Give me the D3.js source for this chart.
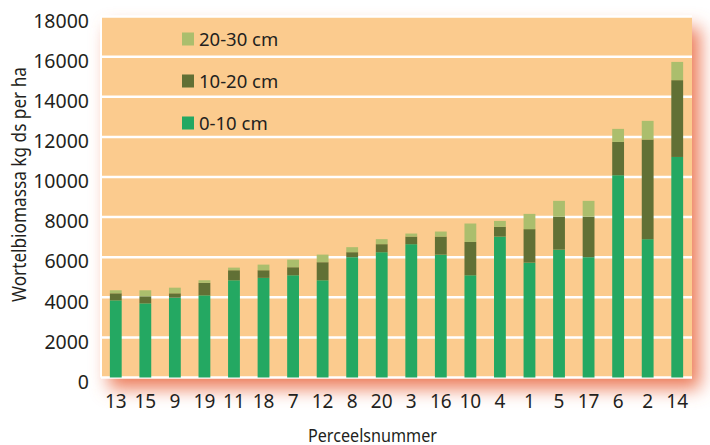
<!DOCTYPE html>
<html><head><meta charset="utf-8">
<script src="https://cdn.jsdelivr.net/npm/d3@7"></script>
<style>
html,body{margin:0;padding:0;background:#fff;}
svg{display:block;}
text{font-family:"Noto Sans",sans-serif;fill:#231F20;}
</style></head>
<body>
<svg id="chart" width="710" height="445"></svg>
<script>
const categories = ["13","15","9","19","11","18","7","12","8","20","3","16","10","4","1","5","17","6","2","14"];
const layer0to10  = [3850,3700,3980,4100,4850,4970,5100,4850,6000,6250,6650,6130,5100,7030,5730,6380,6000,10090,6900,11000];
const layer10to20 = [350,350,220,620,500,380,400,900,250,400,380,900,1660,490,1670,1640,2020,1660,4970,3830];
const layer20to30 = [150,300,280,130,130,280,380,380,250,250,150,250,920,290,760,790,790,650,930,910];
const seriesNames = ["0-10 cm","10-20 cm","20-30 cm"];
const colors = ["#24A862","#617035","#ABBE6D"];
const yTicks = [0,2000,4000,6000,8000,10000,12000,14000,16000,18000];
const yTitle = "Wortelbiomassa kg ds per ha";
const xTitle = "Perceelsnummer";

const svg = d3.select("#chart");
const m = {left:101, top:16.6, right:18, bottom:67.5};
const W = 710 - m.left - m.right, H = 445 - m.top - m.bottom;

const defs = svg.append("defs");
const f = defs.append("filter").attr("id","shadow").attr("x","-20%").attr("y","-20%").attr("width","140%").attr("height","140%");
f.append("feGaussianBlur").attr("stdDeviation",9);

const g = svg.append("g").attr("transform",`translate(${m.left},${m.top})`);

// shadow
g.append("rect").attr("x",8).attr("y",11).attr("width",W).attr("height",H)
 .attr("fill","#EC7A58").attr("filter","url(#shadow)");
g.append("rect").attr("x",0).attr("y",0).attr("width",W).attr("height",H).attr("fill","#FBCB8E");

const x = d3.scaleBand().domain(categories).range([0,W]).paddingInner(0.6).paddingOuter(0.3);
const y = d3.scaleLinear().domain([0,18000]).range([H,0]);

// gridlines
g.selectAll("line.grid").data(yTicks).join("line").attr("class","grid")
 .attr("x1",0).attr("x2",W).attr("y1",d=>y(d)).attr("y2",d=>y(d))
 .attr("stroke","#fff").attr("stroke-width",2.5);
g.append("line").attr("x1",0).attr("x2",0).attr("y1",0).attr("y2",H).attr("stroke","#fff").attr("stroke-width",2);

const data = categories.map((c,i)=>({cat:c, s0:layer0to10[i], s1:layer10to20[i], s2:layer20to30[i]}));
const stack = d3.stack().keys(["s0","s1","s2"])(data);
g.selectAll("g.layer").data(stack).join("g").attr("class","layer")
 .attr("fill",(d,i)=>colors[i])
 .selectAll("rect").data(d=>d).join("rect")
 .attr("x",d=>x(d.data.cat)).attr("width",x.bandwidth())
 .attr("y",d=>y(d[1])).attr("height",d=>y(d[0])-y(d[1]));

// y axis
const ya = g.append("g").call(d3.axisLeft(y).tickValues(yTicks).tickSize(0).tickPadding(12).tickFormat(d3.format("d")));
ya.select(".domain").remove();
ya.selectAll("text").attr("font-size","19.5px").attr("dy","0.37em").attr("transform","translate(0,3.5)")
  .style("font-family","'Noto Sans',sans-serif").attr("fill","#231F20");

// x axis
const xa = g.append("g").attr("transform",`translate(0,${H})`).call(d3.axisBottom(x).tickSize(0).tickPadding(17));
xa.select(".domain").remove();
xa.selectAll("text").attr("font-size","19px").attr("dy","0.71em")
  .style("font-family","'Noto Sans',sans-serif").attr("fill","#231F20");

// titles
svg.append("text").attr("transform","translate(25.5,184.5) rotate(-90)").attr("text-anchor","middle")
 .attr("font-size","19.5px").attr("textLength",235).attr("lengthAdjust","spacingAndGlyphs").text(yTitle);
svg.append("text").attr("x",372.5).attr("y",441.5).attr("text-anchor","middle")
 .attr("font-size","18.5px").attr("textLength",129).attr("lengthAdjust","spacingAndGlyphs").text(xTitle);

// legend
const legOrder = [2,1,0];
const lg = svg.append("g");
legOrder.forEach((si,k)=>{
  const cy = 39 + k*42;
  lg.append("rect").attr("x",182).attr("y",cy-6.5).attr("width",12).attr("height",13).attr("fill",colors[si]);
  lg.append("text").attr("x",199).attr("y",cy+7).attr("font-size","18.5px").text(seriesNames[si]);
});
</script>
</body></html>
